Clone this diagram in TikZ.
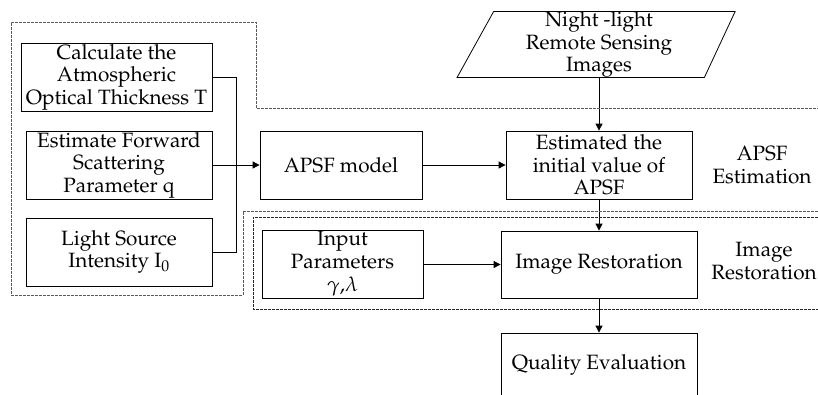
\documentclass[tikz,border=0pt]{standalone}
\usepackage[T1]{fontenc}
\usepackage{mathpazo}
\usetikzlibrary{arrows.meta,shapes.geometric}

\tikzset{
  box/.style={draw, line width=0.8pt, align=center, inner sep=0pt},
  link/.style={line width=0.8pt},
  arr/.style={link, -{Triangle[length=7pt,width=7pt]}},
  region/.style={line width=0.7pt, dash pattern=on 2.6pt off 1.4pt, black!65},
}

\begin{document}
\begin{tikzpicture}[x=1pt,y=-1pt,font=\fontsize{20.7}{22.5}\selectfont]
\useasboundingbox (0,0) rectangle (818,394);
\clip (0,0) rectangle (818,394);

% parameter boxes
\node[box, minimum width=191pt, minimum height=68pt] (thick) at (116.5,77) {Calculate the\\Atmospheric\\Optical Thickness T};
\node[box, minimum width=186pt, minimum height=68pt] (scat) at (119,165) {Estimate Forward\\Scattering\\Parameter q};
\node[box, minimum width=186pt, minimum height=68pt] (power) at (119,252) {Light Source\\Intensity I\textsubscript{0}};

% main chain
\node[box, minimum width=162pt, minimum height=68pt] (model) at (341,165) {APSF model};
\node[box, minimum width=186pt, minimum height=68pt] (init) at (599,165) {Estimated the\\initial value of\\APSF};
\node[box, trapezium, trapezium left angle=61, trapezium right angle=115, trapezium stretches body,
  minimum width=278pt, minimum height=65pt] (night) at (599,44.5) {Night -light\\Remote Sensing\\Images};
\node[box, minimum width=161pt, minimum height=68pt] (input) at (342.5,264) {Input\\Parameters\\[1pt]$\gamma$,$\lambda$};
\node[box, minimum width=196pt, minimum height=67pt] (restore) at (599,264.5) {Image Restoration};
\node[box, minimum width=196pt, minimum height=64pt] (quality) at (599,365) {Quality Evaluation};

% stage labels
\node[align=center] (lblest) at (762,165) {APSF\\Estimation};
\node[align=center] (lblres) at (764,261) {Image\\Restoration};

% connectors
\coordinate (junc) at (236,165);
\draw[link] (thick.east) -| (junc);
\draw[link] (power.east) -| (junc);
\draw[arr] (scat.east) -- (model.west);
\draw[arr] (model.east) -- (init.west);
\draw[arr] (night.south) -- (night.south |- init.north);
\draw[arr] (init.south) -- (init.south |- restore.north);
\draw[arr] (input.east |- restore.west) -- (restore.west);
\draw[arr] (restore.south) -- (restore.south |- quality.north);

% dashed stage frames
\draw[region] (830,211) -- (243,211) -- (243,295) -- (11,295) -- (11,22) -- (256,22) -- (256,108) -- (830,108);
\draw[region, black!85] (830,217) -- (253,217) -- (253,309) -- (830,309);

\end{tikzpicture}
\end{document}
